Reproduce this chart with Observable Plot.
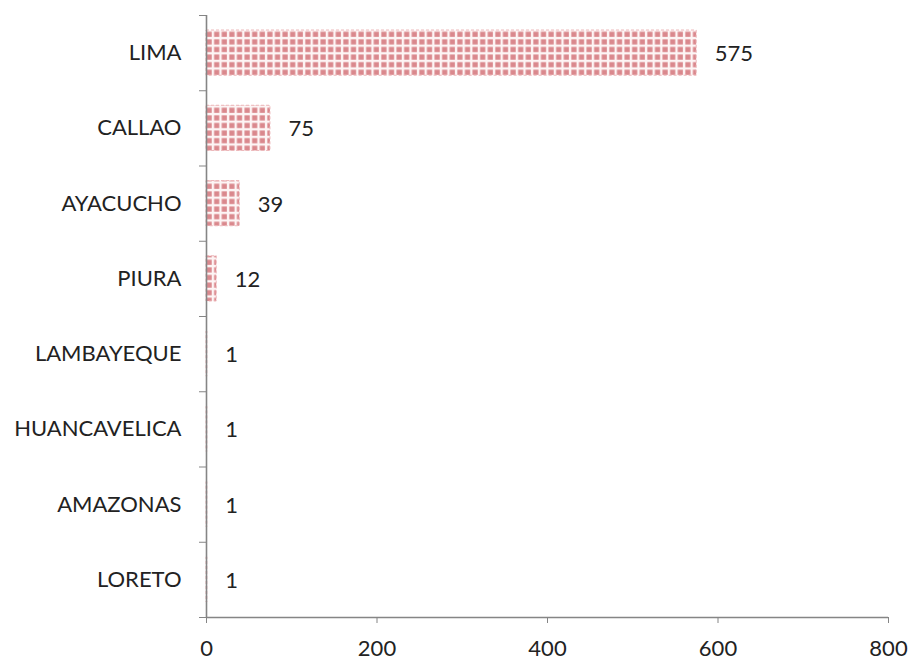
<!DOCTYPE html>
<html><head><meta charset="utf-8">
<script src="https://cdn.jsdelivr.net/npm/d3@7"></script>
<script src="https://cdn.jsdelivr.net/npm/@observablehq/plot@0.6"></script>
<style>body{margin:0;background:#fff}</style>
</head><body><div id="chart"></div>
<script>
const regions = ["LIMA","CALLAO","AYACUCHO","PIURA","LAMBAYEQUE","HUANCAVELICA","AMAZONAS","LORETO"];
const counts = [575,75,39,12,1,1,1,1];
const xTicks = [0,200,400,600,800];

const n = regions.length;
const data = regions.map((r,i)=>({region:r, value:counts[i], y1:n-1-i, y2:n-i, yc:n-i-0.5}));
const font = "Lato, 'Liberation Sans', sans-serif";
const axisColor = "#858585";

const chart = Plot.plot({
  width: 916, height: 662,
  marginLeft: 206, marginRight: 28, marginTop: 15, marginBottom: 45,
  style: {fontFamily: font, fontSize: "22px", color: "#222", background: "#fff"},
  x: {domain: [0,800]},
  y: {domain: [0,n]},
  marks: [
    Plot.rectX(data, {x1: 0, x2: "value", y1: "y1", y2: "y2", insetTop: 15, insetBottom: 15,
      fill: "url(#dotpat)", stroke: "#edb8bb", strokeWidth: 1, strokeDasharray: "3,2"}),
    Plot.text(data, {x: "value", y: "yc", text: d=>String(d.value), textAnchor: "start", dx: 18, dy: 1, fill: "#222", fontSize: 22}),
    Plot.axisX({ticks: xTicks, tickSize: 6, tickPadding: 17, stroke: axisColor, color: "#222", fontSize: 22, label: null, tickFormat: d=>String(d)}),
    Plot.axisY({ticks: d3.range(0,n+1), tickSize: 7, tickFormat: ()=>"", stroke: axisColor, label: null}),
    Plot.axisY({ticks: data.map(d=>d.yc), tickSize: 0, tickPadding: 25, tickFormat: v=>regions[n-1-Math.floor(v)], color: "#222", fontSize: 22, label: null}),
    Plot.ruleX([0], {stroke: axisColor, strokeWidth: 1.6}),
    Plot.ruleY([0], {stroke: axisColor, strokeWidth: 1.6})
  ]
});
// pattern definition for the dotted bar fill
const ns = "http://www.w3.org/2000/svg";
const defs = document.createElementNS(ns, "defs");
const pat = document.createElementNS(ns, "pattern");
pat.setAttribute("id","dotpat"); pat.setAttribute("patternUnits","userSpaceOnUse");
pat.setAttribute("width","7.6"); pat.setAttribute("height","7.6");
const bg = document.createElementNS(ns,"rect");
bg.setAttribute("width","7.6"); bg.setAttribute("height","7.6"); bg.setAttribute("fill","#fdf5f5");
const sq = document.createElementNS(ns,"rect");
sq.setAttribute("x","1.3"); sq.setAttribute("y","1.3");
sq.setAttribute("width","5.2"); sq.setAttribute("height","5.2"); sq.setAttribute("fill","#da888d");
pat.appendChild(bg); pat.appendChild(sq); defs.appendChild(pat);
chart.insertBefore(defs, chart.firstChild);
document.getElementById("chart").appendChild(chart);
</script>
</body></html>
